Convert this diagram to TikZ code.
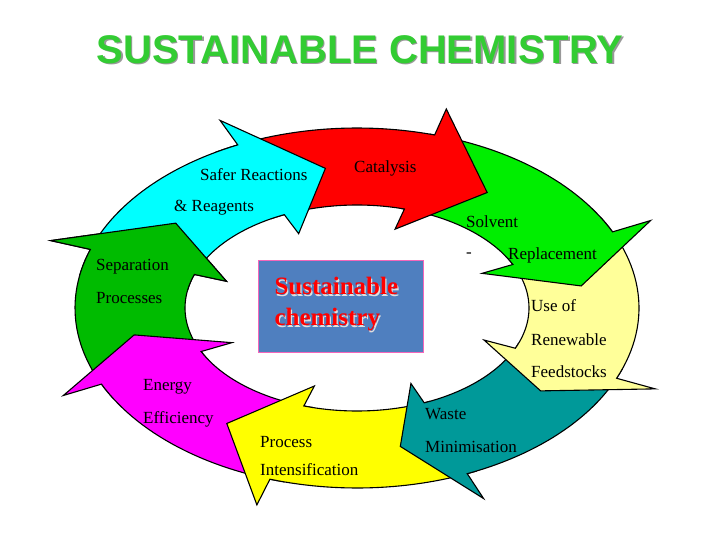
\documentclass[tikz,border=0pt]{standalone}
\usepackage{fontspec}
\setmainfont{Liberation Serif}
\newfontfamily\titlefont{Liberation Sans}
\definecolor{ringcyan}{HTML}{00FFFF}
\definecolor{ringred}{HTML}{FF0000}
\definecolor{ringgreen}{HTML}{00EE00}
\definecolor{ringpale}{HTML}{FFFF99}
\definecolor{ringteal}{HTML}{009999}
\definecolor{ringyellow}{HTML}{FFFF00}
\definecolor{ringmagenta}{HTML}{FF00FF}
\definecolor{ringdark}{HTML}{00BB00}
\definecolor{boxblue}{HTML}{4F7FBF}
\definecolor{titlegreen}{HTML}{33CC33}
% curved arrow: #1 start angle, #2 head base angle, #3 tip angle
\newcommand{\ringpath}[3]{plot[domain=0:1,samples=30] ({357+282*cos(#1+\x*(#2-#1))},{308+180*sin(#1+\x*(#2-#1))})
  -- ({357+324*cos(#2)},{308+207*sin(#2)})
  -- ({357+227*cos(#3)},{308+141*sin(#3)})
  -- ({357+138*cos(#2)},{308+82*sin(#2)})
  -- plot[domain=0:1,samples=30] ({357+172*cos(#2-\x*(#2-#1))},{308+103*sin(#2-\x*(#2-#1))})}
\begin{document}
\begin{tikzpicture}[x=1pt,y=-1pt,
    ringarrow/.style={draw=black, line width=1.1pt, line join=miter},
    ringlabel/.style={anchor=west, inner sep=0pt, font=\fontsize{17}{17}\selectfont}]
\useasboundingbox (0,0) rectangle (720,540);

\node (title) [font=\titlefont\bfseries\fontsize{40}{40}\selectfont, text=titlegreen] at (360,50)
  {\makebox[0pt][l]{\kern1.5pt\raisebox{-1.5pt}{\textcolor{gray!80}{SUSTAINABLE CHEMISTRY}}}SUSTAINABLE CHEMISTRY};

% ring of arrows, drawn against the clock
\filldraw[ringarrow, fill=ringdark] \ringpath{510}{559}{577} -- cycle;
\filldraw[ringarrow, fill=ringmagenta] \ringpath{465}{515}{529} -- cycle;
\filldraw[ringarrow, fill=ringyellow] \ringpath{425}{468}{485} -- cycle;
\filldraw[ringarrow, fill=ringteal] \ringpath{380}{427}{439} -- cycle;
\filldraw[ringarrow, fill=ringpale] \ringpath{330}{383}{396} -- cycle;
\filldraw[ringarrow, fill=ringgreen] \ringpath{285}{335}{351} -- cycle;
\filldraw[ringarrow, fill=ringred] \ringpath{240}{286}{305} -- cycle;
\filldraw[ringarrow, fill=ringcyan] \ringpath{200}{245}{262} -- cycle;
% head of the left arrow lies over the cyan tail
\fill[ringdark] \ringpath{550}{559}{577} -- cycle;
\draw[ringarrow] \ringpath{550}{559}{577};

\node (centre) [draw=magenta!60, fill=boxblue, minimum width=165pt, minimum height=92pt, inner sep=0pt] at (340.5,306) {};
\node (centretext) [anchor=north west, align=left, text=red, font=\bfseries\fontsize{25}{31}\selectfont] at (271,274)
  {\makebox[0pt][l]{\kern1.2pt\raisebox{-1.2pt}{\textcolor{white!75!gray}{Sustainable}}}Sustainable\\
   \makebox[0pt][l]{\kern1.2pt\raisebox{-1.2pt}{\textcolor{white!75!gray}{chemistry}}}chemistry};

\node (safer) [ringlabel] at (200,175) {Safer Reactions};
\node (reagents) [ringlabel] at (174,208) {\& Reagents};
\node (catalysis) [ringlabel] at (354,168) {Catalysis};
\node (solvent) [ringlabel] at (466,222) {Solvent};
\node (dash) [ringlabel] at (466,255) {-};
\node (replace) [ringlabel] at (508,255) {Replacement};
\node (useof) [ringlabel] at (531,306) {Use of};
\node (renew) [ringlabel] at (531,340) {Renewable};
\node (feed) [ringlabel] at (531,372) {Feedstocks};
\node (waste) [ringlabel] at (425,414) {Waste};
\node (minim) [ringlabel] at (425,447) {Minimisation};
\node (process) [ringlabel] at (260,442) {Process};
\node (intens) [ringlabel] at (260,470) {Intensification};
\node (energy) [ringlabel] at (143,387) {Energy};
\node (effic) [ringlabel] at (143,419) {Efficiency};
\node (separ) [ringlabel] at (96,267) {Separation};
\node (procs) [ringlabel] at (96,298) {Processes};
\end{tikzpicture}
\end{document}
